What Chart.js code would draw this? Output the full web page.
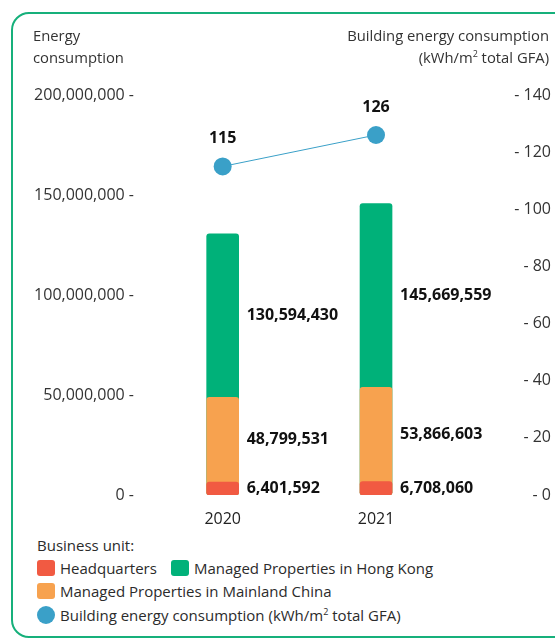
<!DOCTYPE html>
<html>
<head>
<meta charset="utf-8">
<script src="https://cdn.jsdelivr.net/npm/chart.js@4.4.0/dist/chart.umd.min.js"></script>
<style>
  html, body { margin:0; padding:0; background:#fff; }
  body { width:555px; height:638px; position:relative; overflow:hidden; font-family:"Open Sans", "Noto Sans", sans-serif; color:#333; }
  #frame { position:absolute; left:11px; top:12px; width:640px; height:626px; box-sizing:border-box; border:2px solid #16b07b; border-radius:18px; }
  #wrap { position:absolute; left:0; top:0; width:555px; height:530px; }
  .atitle { position:absolute; font-size:14.8px; line-height:22px; font-weight:400; color:#333; }
  #legend { position:absolute; left:37px; top:534px; font-size:15px; font-weight:400; color:#2b2b2b; }
  #legend .head { height:22px; line-height:22px; }
  #legend .row { height:23.5px; display:flex; align-items:center; white-space:nowrap; }
  #legend .item { display:flex; align-items:center; margin-right:14px; }
  #legend .sw { width:18px; height:16px; border-radius:3px; margin-right:5px; flex:none; }
  #legend .dot { width:18px; height:18px; border-radius:50%; margin-right:5px; flex:none; }
</style>
</head>
<body>
<div id="frame"></div>
<div id="wrap"><canvas id="c" width="555" height="530"></canvas></div>
<div class="atitle" style="left:33px; top:24px;">Energy<br>consumption</div>
<div class="atitle" style="right:6px; top:24px; text-align:right;">Building energy consumption<br>(kWh/m<sup style="font-size:9px; line-height:0; vertical-align:6px;">2</sup> total GFA)</div>
<div id="legend"></div>
<script>
const categories = ['2020', '2021'];
const headquarters = [6401592, 6708060];
const hongKong = [130594430, 145669559];
const mainland = [48799531, 53866603];
const intensity = [115, 126];
const leftTicks = [0, 50000000, 100000000, 150000000, 200000000];
const rightTicks = [0, 20, 40, 60, 80, 100, 120, 140];
const legendTitle = 'Business unit:';
const seriesNames = ['Headquarters', 'Managed Properties in Hong Kong', 'Managed Properties in Mainland China', 'Building energy consumption (kWh/m² total GFA)'];

const COL = { hq:'#f15a42', hk:'#00b179', mc:'#f7a24f', line:'#3aa0c8' };
const FONT = '"Open Sans", "Noto Sans", sans-serif';
const fmt = v => v.toLocaleString('en-US');

const labelPlugin = {
  id: 'valueLabels',
  afterDatasetsDraw(chart) {
    const ctx = chart.ctx;
    const y = chart.scales.y;
    ctx.save();
    ctx.font = 'bold 16px ' + FONT;
    ctx.fillStyle = '#111';
    ctx.textBaseline = 'middle';
    const bases = [null, mainland, headquarters]; // datasets 0 (hq), 1 (hk), 2 (mc)
    chart.data.datasets.forEach((ds, di) => {
      const meta = chart.getDatasetMeta(di);
      if (ds.type === 'line') {
        ctx.textAlign = 'center';
        meta.data.forEach((pt, j) => {
          ctx.fillText(String(ds.data[j]), pt.x, pt.y - 28);
        });
        return;
      }
      ctx.textAlign = 'left';
      meta.data.forEach((bar, j) => {
        const top = ds.data[j];
        const base = bases[di] ? bases[di][j] : 0;
        const yy = (y.getPixelForValue(top) + y.getPixelForValue(base)) / 2;
        ctx.fillText(fmt(top), bar.x + bar.width / 2 + 8, yy);
      });
    });
    ctx.restore();
  }
};

const chart = new Chart(document.getElementById('c'), {
  data: {
    labels: categories,
    datasets: [
      { type:'bar', label:seriesNames[0], data:headquarters, backgroundColor:COL.hq, order:1, yAxisID:'y' },
      { type:'bar', label:seriesNames[1], data:hongKong, backgroundColor:COL.hk, order:3, yAxisID:'y' },
      { type:'bar', label:seriesNames[2], data:mainland, backgroundColor:COL.mc, order:2, yAxisID:'y' },
      { type:'line', label:seriesNames[3], data:intensity, borderColor:COL.line, backgroundColor:COL.line,
        borderWidth:1, pointRadius:9, pointHoverRadius:9, pointBackgroundColor:COL.line, pointBorderWidth:0,
        order:0, yAxisID:'y1', tension:0 }
    ]
  },
  options: {
    responsive:false, animation:false,
    datasets: { bar: { grouped:false, barThickness:32, borderRadius:3, borderSkipped:false } },
    layout: { padding: { top:95, right:4, left:0, bottom:0 } },
    plugins: { legend:{ display:false }, tooltip:{ enabled:false } },
    scales: {
      x: {
        grid:{ display:false }, border:{ display:false },
        ticks:{ color:'#222', font:{ family:FONT, size:16, weight:400 }, padding:7 },
        afterFit(s) { s.height = 35; }
      },
      y: {
        position:'left', min:0, max:200000000,
        grid:{ display:false }, border:{ display:false },
        afterBuildTicks(s) { s.ticks = leftTicks.map(v => ({ value:v })); },
        ticks:{ color:'#333', font:{ family:FONT, size:16, weight:400 }, padding:4,
          callback:v => fmt(v) + ' -' },
        afterFit(s) { s.width = 146; }
      },
      y1: {
        position:'right', min:0, max:140,
        grid:{ display:false }, border:{ display:false },
        afterBuildTicks(s) { s.ticks = rightTicks.map(v => ({ value:v })); },
        ticks:{ color:'#333', font:{ family:FONT, size:16, weight:400 }, padding:0, crossAlign:'far',
          callback:v => '- ' + v },
        afterFit(s) { s.width = 98.3; }
      }
    }
  },
  plugins:[labelPlugin]
});

// Legend built from the chart's datasets
(function buildLegend() {
  const lg = document.getElementById('legend');
  const ds = chart.data.datasets;
  const head = document.createElement('div');
  head.className = 'head'; head.textContent = legendTitle; lg.appendChild(head);
  const rows = [[0, 1], [2], [3]];
  rows.forEach(r => {
    const row = document.createElement('div'); row.className = 'row';
    r.forEach(i => {
      const it = document.createElement('div'); it.className = 'item';
      const sw = document.createElement('span');
      sw.className = ds[i].type === 'line' ? 'dot' : 'sw';
      sw.style.background = ds[i].backgroundColor;
      const tx = document.createElement('span');
      const parts = ds[i].label.split('m²');
      if (parts.length > 1) {
        tx.appendChild(document.createTextNode(parts[0] + 'm'));
        const sup = document.createElement('sup'); sup.textContent = '2';
        sup.style.fontSize = '9px'; sup.style.lineHeight = '0'; sup.style.verticalAlign = '6px';
        tx.appendChild(sup);
        tx.appendChild(document.createTextNode(parts[1]));
      } else tx.textContent = ds[i].label;
      it.appendChild(sw); it.appendChild(tx); row.appendChild(it);
    });
    lg.appendChild(row);
  });
})();
</script>
</body>
</html>
